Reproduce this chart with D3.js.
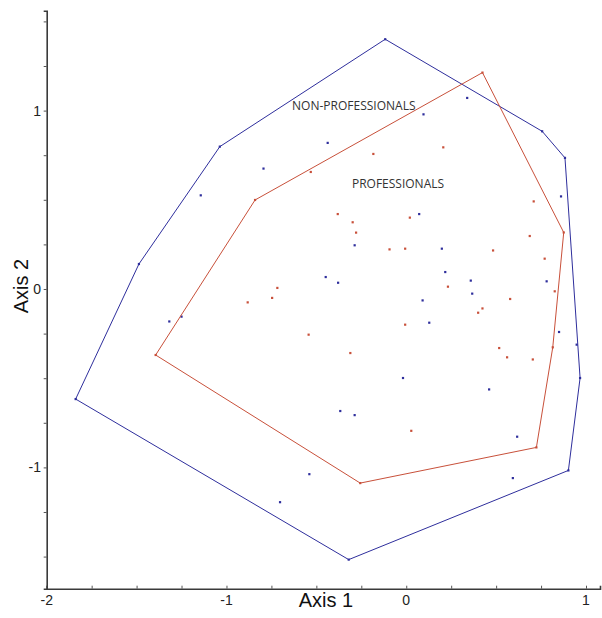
<!DOCTYPE html>
<html>
<head>
<meta charset="utf-8">
<script src="https://cdn.jsdelivr.net/npm/d3@7"></script>
<style>
body { margin: 0; background: #fff; }
</style>
</head>
<body>
<div id="chart"></div>
<script>
// Axis 1 / Axis 2 scores
let professionals = [
    [-0.882,-0.075], [-0.746,-0.05], [-0.717,0.006], [-1.394,-0.37], [-0.841,0.499],
    [-0.531,0.656], [-0.183,0.757], [0.206,0.794], [0.424,1.213], [0.876,0.317],
    [0.709,0.491], [-0.381,0.42], [-0.298,0.374], [-0.279,0.316], [0.02,0.40],
    [-0.093,0.222], [-0.006,0.226], [0.483,0.216], [0.687,0.297], [0.77,0.17],
    [0.826,-0.013], [0.232,0.013], [0.578,-0.056], [0.424,-0.109], [0.4,-0.133],
    [-0.006,-0.2], [-0.543,-0.256], [-0.311,-0.359], [0.028,-0.795], [-0.256,-1.088],
    [0.724,-0.888], [0.815,-0.327], [0.704,-0.395], [0.561,-0.383], [0.517,-0.331]
];
let non_professionals = [
    [-1.037,0.798], [-0.794,0.675], [-1.143,0.525], [-1.487,0.14], [-1.318,-0.182],
    [-1.25,-0.155], [-1.839,-0.617], [-0.702,-1.195], [-0.018,-0.499], [-0.367,-0.684],
    [-0.287,-0.707], [-0.32,-1.517], [-0.539,-1.038], [0.593,-1.06], [0.617,-0.828],
    [0.902,-1.017], [0.967,-0.499], [0.948,-0.312], [0.85,-0.241], [0.461,-0.563],
    [0.128,-0.189], [0.091,-0.064], [-0.117,1.4], [0.339,1.071], [0.096,0.979],
    [0.756,0.884], [0.883,0.735], [-0.437,0.819], [0.861,0.519], [-0.287,0.245],
    [0.072,0.42], [0.198,0.226], [0.781,0.043], [-0.448,0.067], [-0.379,0.035],
    [0.217,0.095], [0.359,0.047], [0.367,-0.026]
];
let major_ticks = [-2, -1, 0, 1];
let x_minor = d3.range(-2, 1.01, 0.25);
let y_minor = d3.range(-1.5, 1.51, 0.25);
let group_labels = [
    {text: "NON-PROFESSIONALS", x: -0.635, y: 1.003},
    {text: "PROFESSIONALS", x: -0.302, y: 0.566}
];

let blue = "#2e2e9c";
let red = "#c8503a";

let svg = d3.select("#chart").append("svg").attr("width", 602).attr("height", 618);

let x_scale = d3.scaleLinear().domain([-2, 1.0778]).range([46.7, 600]);
let y_scale = d3.scaleLinear().domain([-1.68, 1.56]).range([588.7, 10.7]);

// hulls
function draw_group(points, colour) {
    let hull = d3.polygonHull(points);
    svg.append("path")
        .datum(hull)
        .attr("fill", "none")
        .attr("stroke", colour)
        .attr("stroke-width", 1)
        .attr("d", d3.line()
            .x(function(d) { return x_scale(d[0]) })
            .y(function(d) { return y_scale(d[1]) })
            .curve(d3.curveLinearClosed));
    svg.append("g").selectAll("rect")
        .data(points)
        .enter().append("rect")
        .attr("x", function(d) { return x_scale(d[0]) - 1.1 })
        .attr("y", function(d) { return y_scale(d[1]) - 1.1 })
        .attr("width", 2.2)
        .attr("height", 2.2)
        .attr("fill", colour);
}
draw_group(non_professionals, blue);
draw_group(professionals, red);

// axes
let x_axis = d3.axisTop(x_scale).tickValues(x_minor).tickSize(3).tickFormat("");
let gx = svg.append("g").attr("transform", "translate(0," + y_scale.range()[0] + ")").call(x_axis);
let y_axis = d3.axisLeft(y_scale).tickValues(y_minor).tickSize(3).tickFormat("");
let gy = svg.append("g").attr("transform", "translate(" + x_scale.range()[0] + ",0)").call(y_axis);
[gx, gy].forEach(function(g) {
    g.select(".domain").attr("stroke", "#3a3a3a").attr("stroke-width", 1.6);
    g.selectAll(".tick line").attr("stroke", "#555");
});

svg.append("g").selectAll("text")
    .data(major_ticks)
    .enter().append("text")
    .attr("x", function(d) { return x_scale(d) })
    .attr("y", 605)
    .attr("text-anchor", "middle")
    .style("font", "14px 'Liberation Sans', Arial, sans-serif")
    .attr("fill", "#222")
    .text(function(d) { return d });

svg.append("g").selectAll("text")
    .data(major_ticks.filter(function(d) { return d > -2 }))
    .enter().append("text")
    .attr("x", 41)
    .attr("y", function(d) { return y_scale(d) + 5 })
    .attr("text-anchor", "end")
    .style("font", "14px 'Liberation Sans', Arial, sans-serif")
    .attr("fill", "#222")
    .text(function(d) { return d });

svg.append("text")
    .attr("x", 326).attr("y", 607)
    .attr("text-anchor", "middle")
    .style("font", "20px 'Liberation Sans', Arial, sans-serif")
    .attr("fill", "#111")
    .text("Axis 1");

svg.append("text")
    .attr("transform", "translate(28,286) rotate(-90)")
    .attr("text-anchor", "middle")
    .style("font", "20px 'Liberation Sans', Arial, sans-serif")
    .attr("fill", "#111")
    .text("Axis 2");

svg.append("g").selectAll("text")
    .data(group_labels)
    .enter().append("text")
    .attr("x", function(d) { return x_scale(d.x) })
    .attr("y", function(d) { return y_scale(d.y) })
    .style("font", "12px 'Open Sans', sans-serif")
    .attr("fill", "#333")
    .text(function(d) { return d.text });
</script>
</body>
</html>
